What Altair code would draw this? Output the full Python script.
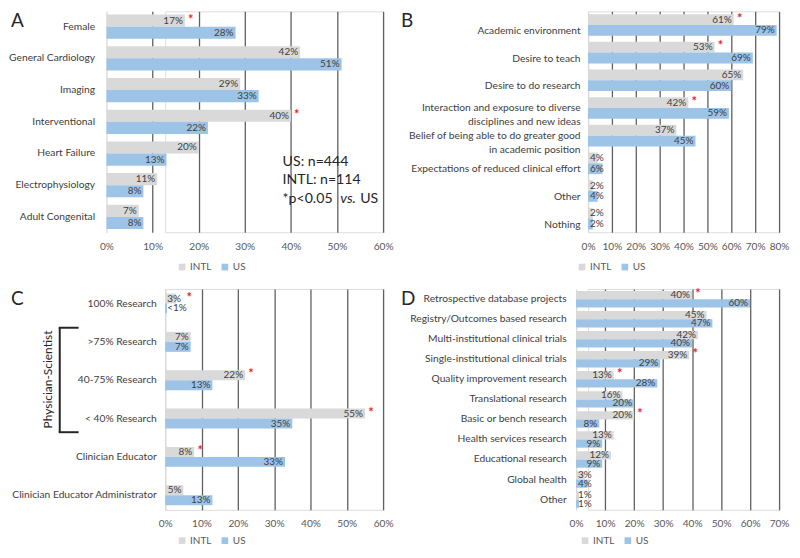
import altair as alt
import pandas as pd

INTL_COLOR = "#d9d9d9"
US_COLOR = "#9dc3e6"
STAR_COLOR = "#e8262b"
TXT = "#404040"
FONT = "Lato"
FS = 10.3

# ---------------- data ----------------
A_cats = ["Female", "General Cardiology", "Imaging", "Interventional",
          "Heart Failure", "Electrophysiology", "Adult Congenital"]
A_intl = [17, 42, 29, 40, 20, 11, 7]
A_us = [28, 51, 33, 22, 13, 8, 8]
A_sig = [True, False, False, True, False, False, False]

B_cats = ["Academic environment", "Desire to teach", "Desire to do research",
          "Interaction and exposure to diverse|disciplines and new ideas",
          "Belief of being able to do greater good|in academic position",
          "Expectations of reduced clinical effort", "Other", "Nothing"]
B_intl = [61, 53, 65, 42, 37, 4, 2, 2]
B_us = [79, 69, 60, 59, 45, 6, 4, 2]
B_sig = [True, True, False, True, False, False, False, False]

C_cats = ["100% Research", ">75% Research", "40-75% Research", "< 40% Research",
          "Clinician Educator", "Clinician Educator Administrator"]
C_intl = [3, 7, 22, 55, 8, 5]
C_us = [0.5, 7, 13, 35, 33, 13]
C_us_labels = ["<1%", None, None, None, None, None]
C_sig = [True, False, True, True, True, False]

D_cats = ["Retrospective database projects", "Registry/Outcomes based research",
          "Multi-institutional clinical trials", "Single-institutional clinical trials",
          "Quality improvement research", "Translational research",
          "Basic or bench research", "Health services research",
          "Educational research", "Global health", "Other"]
D_intl = [40, 45, 42, 39, 13, 16, 20, 13, 12, 3, 1]
D_us = [60, 47, 40, 29, 28, 20, 8, 9, 9, 4, 1]
D_sig = [True, False, False, True, True, False, True, False, False, False, False]

SERIES = ["INTL", "US"]


def make_df(cats, intl, us, sig, us_labels=None):
    rows = []
    for i, c in enumerate(cats):
        rows.append(dict(cat=c, series="INTL", value=intl[i], label=f"{intl[i]}%", sig=bool(sig[i])))
        lab = us_labels[i] if (us_labels and us_labels[i]) else f"{us[i]}%"
        rows.append(dict(cat=c, series="US", value=us[i], label=lab, sig=False))
    return pd.DataFrame(rows)


def note(text, x, y, **kw):
    return alt.Chart(pd.DataFrame({"t": [text]})).mark_text(font=FONT, **kw).encode(
        x=alt.value(x), y=alt.value(y), text="t:N")


def panel(df, cats, xmax, xrange, height, letter_x, thresh, letter, pin, pout,
          lab_pad, legend_x, legend_y, label_offset=0, extra=()):
    x_axis = alt.Axis(values=list(range(0, xmax + 1, 10)), labelExpr="datum.value + '%'",
                      grid=True, gridWidth=1.3,
                      gridColor={"condition": {"test": "datum.value == 0", "value": "#d9d9d9"},
                                 "value": "#5f5f5f"},
                      domain=False, ticks=False, labelPadding=9, labelFontSize=10.2,
                      labelFlush=False, labelOverlap=False,
                      labelColor="#595959", labelFont=FONT, title=None)
    xs = alt.Scale(domain=[0, xmax], nice=False, zero=True, range=list(xrange))
    y = alt.Y("cat:N", sort=cats, title=None,
              scale=alt.Scale(paddingInner=pin, paddingOuter=pout),
              axis=alt.Axis(domain=False, ticks=False, labelPadding=lab_pad,
                            labelLimit=400,
                            labelFont=FONT, labelFontSize=FS, labelColor=TXT,
                            labelLineHeight=14,
                            labelExpr="split(datum.label, '|')",
                            labelOffset=label_offset))
    yo = alt.YOffset("series:N", sort=SERIES, scale=alt.Scale(paddingInner=0, paddingOuter=0))
    base = alt.Chart(df).encode(y=y, yOffset=yo)
    bars = base.mark_bar().encode(
        x=alt.X("value:Q", scale=xs, axis=x_axis, title=None),
        color=alt.Color("series:N",
                        scale=alt.Scale(domain=SERIES, range=[INTL_COLOR, US_COLOR]),
                        legend=alt.Legend(title=None, orient="none", legendX=legend_x,
                                          legendY=legend_y, direction="horizontal",
                                          symbolType="square", symbolSize=45,
                                          symbolStrokeWidth=0, labelFontSize=10,
                                          labelColor="#595959", labelFont=FONT,
                                          columnPadding=8, labelOffset=3)))
    big = base.transform_filter(f"datum.value >= {thresh}").mark_text(
        align="right", dx=-2, font=FONT, fontSize=10, color=TXT).encode(
        x=alt.X("value:Q", scale=xs, axis=x_axis, title=None), text="label:N")
    small = base.transform_filter(f"datum.value < {thresh}").transform_calculate(
        zero="0").mark_text(align="left", dx=2, font=FONT, fontSize=10, color=TXT).encode(
        x=alt.X("zero:Q", scale=xs, axis=x_axis, title=None), text="label:N")
    stars = base.transform_filter("datum.sig").transform_calculate(
        sx=f"max(datum.value, {thresh})").mark_text(
        text="*", align="center", dx=6, dy=-1, font=FONT, fontSize=13, fontWeight="bold",
        color=STAR_COLOR).encode(x=alt.X("sx:Q", scale=xs, axis=x_axis, title=None))
    let = note(letter, letter_x, 1, align="left", baseline="top", fontSize=19, color="#262626")
    return alt.layer(bars, big, small, stars, let, *extra).properties(
        width=xrange[1], height=height)


dfA = make_df(A_cats, A_intl, A_us, A_sig)
dfB = make_df(B_cats, B_intl, B_us, B_sig)
dfC = make_df(C_cats, C_intl, C_us, C_sig, C_us_labels)
dfD = make_df(D_cats, D_intl, D_us, D_sig)

NOTE_FS = 14.2
a_notes = [
    note("US: n=444", 118, 151, align="left", fontSize=NOTE_FS, color="#262626"),
    note("INTL: n=114", 118, 170, align="left", fontSize=NOTE_FS, color="#262626"),
    note("*p<0.05", 118, 189, align="left", fontSize=NOTE_FS, color="#262626"),
    note("vs.", 176, 189, align="left", fontSize=NOTE_FS, fontStyle="italic", color="#262626"),
    note("US", 196, 189, align="left", fontSize=NOTE_FS, color="#262626"),
]

one = pd.DataFrame({"a": [0]})
c_extra = [
    note("Physician-Scientist", -118, 91, angle=270, fontSize=12, color="#262626"),
    alt.Chart(one).mark_rule(color="#262626", strokeWidth=2).encode(
        x=alt.value(-106), y=alt.value(39), y2=alt.value(144)),
    alt.Chart(one).mark_rule(color="#262626", strokeWidth=2).encode(
        x=alt.value(-107), x2=alt.value(-87), y=alt.value(39)),
    alt.Chart(one).mark_rule(color="#262626", strokeWidth=2).encode(
        x=alt.value(-107), x2=alt.value(-87), y=alt.value(144)),
]

# Layout uses flush bounds: panels in a column share one origin; x-scale ranges
# start left of that origin where a panel's plot begins further left.
A = panel(dfA, A_cats, 60, (-59, 219), 222, -155, 0, "A", 0.235, 0.1, 71, 12, 252, extra=a_notes)
B = panel(dfB, B_cats, 80, (0, 192), 222, -188, 7, "B", 0.22, 0.1, 8, -11, 252,
          label_offset={"condition": {"test": "indexof(datum.value, '|') < 0", "value": 6},
                        "value": 0})
C = panel(dfC, C_cats, 60, (0, 219), 222, -155, 5, "C", 0.48, 0.12, 9, 12, 248, extra=c_extra)
D = panel(dfD, D_cats, 70, (-12, 192), 222, -188, 6, "D", 0.18, 0.1, 22, -8, 248)

chart = alt.ConcatChart(concat=[A, B, C, D], columns=2, align="none", bounds="flush",
                        spacing={"row": 57, "column": 206}).resolve_scale(
    color="independent", yOffset="independent").properties(
    padding={"left": 0, "top": 1, "right": 0, "bottom": 0}).configure_view(
    stroke=None).configure(font=FONT)

chart.save("out.html", embed_options={"renderer": "svg", "actions": False})
